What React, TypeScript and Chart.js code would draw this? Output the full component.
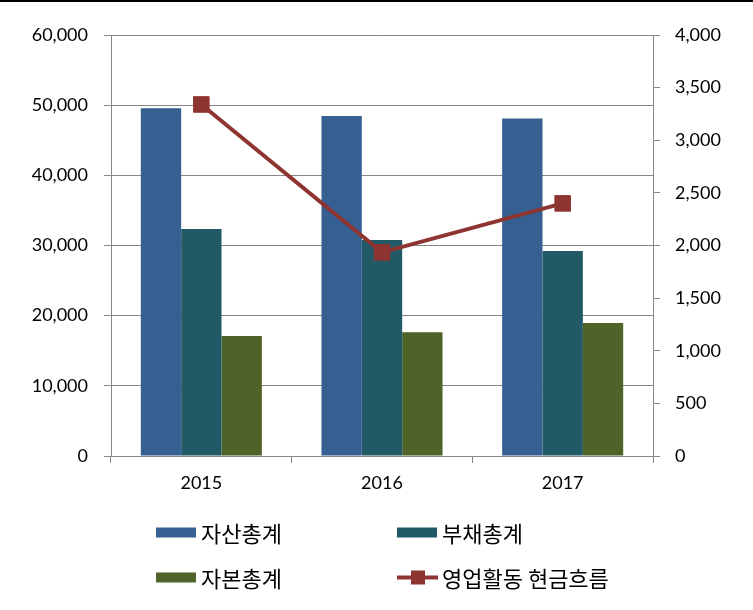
import React, { useEffect, useRef } from "react";
import { Chart, registerables } from "chart.js";

Chart.register(...registerables);

const categories = ["2015", "2016", "2017"];
const assets = [49550, 48450, 48100];
const liabilities = [32350, 30780, 29200];
const equity = [17100, 17650, 18950];
const cashFlow = [3340, 1935, 2400];

const seriesNames = ["자산총계", "부채총계", "자본총계", "영업활동 현금흐름"];
const colors = ["#376092", "#215A66", "#4F6228", "#8E3532"];

const GRID = "#878787";
const TICK_FONT = { family: "Lato, 'Noto Sans', sans-serif", size: 18 };
const LEGEND_FONT = "22px 'Noto Sans CJK KR', 'Noto Sans', sans-serif";

const legendPlugin = {
  id: "customLegend",
  afterDraw(chart: any) {
    const ctx = chart.ctx;
    ctx.save();
    ctx.fillStyle = "#000";
    ctx.fillRect(0, 0, chart.width, 2);

    const cols = [156, 397];
    const rows = [532.5, 577.5];
    const items = [
      { i: 0, c: 0, r: 0 },
      { i: 1, c: 1, r: 0 },
      { i: 2, c: 0, r: 1 },
      { i: 3, c: 1, r: 1 },
    ];
    ctx.font = LEGEND_FONT;
    ctx.textBaseline = "middle";
    ctx.textAlign = "left";
    for (const it of items) {
      const x = cols[it.c];
      const y = rows[it.r];
      ctx.fillStyle = colors[it.i];
      if (it.i < 3) {
        ctx.fillRect(x, y - 5, 40, 10);
      } else {
        ctx.strokeStyle = colors[it.i];
        ctx.lineWidth = 4;
        ctx.beginPath();
        ctx.moveTo(x, y);
        ctx.lineTo(x + 41, y);
        ctx.stroke();
        ctx.fillRect(x + 14, y - 7, 14, 14);
      }
      ctx.fillStyle = "#000";
      ctx.fillText(seriesNames[it.i], x + 45, y + 1);
    }
    ctx.restore();
  },
};

export default function App() {
  const ref = useRef<HTMLCanvasElement | null>(null);

  useEffect(() => {
    if (!ref.current) return;
    const chart = new Chart(ref.current, {
      type: "bar",
      data: {
        labels: categories,
        datasets: [
          {
            type: "line" as const,
            label: seriesNames[3],
            data: cashFlow,
            yAxisID: "y1",
            borderColor: colors[3],
            backgroundColor: colors[3],
            borderWidth: 4,
            pointStyle: "rect",
            pointRadius: 11,
            pointBorderWidth: 1,
            pointBackgroundColor: colors[3],
            pointBorderColor: colors[3],
            tension: 0,
            order: 0,
          },
          {
            label: seriesNames[0],
            data: assets,
            backgroundColor: colors[0],
            yAxisID: "y",
            order: 1,
          },
          {
            label: seriesNames[1],
            data: liabilities,
            backgroundColor: colors[1],
            yAxisID: "y",
            order: 1,
          },
          {
            label: seriesNames[2],
            data: equity,
            backgroundColor: colors[2],
            yAxisID: "y",
            order: 1,
          },
        ] as any,
      },
      options: {
        responsive: false,
        animation: false,
        datasets: {
          bar: { categoryPercentage: 0.67, barPercentage: 1.0 },
        },
        layout: { padding: { top: 35, bottom: 114, left: 0, right: 0 } },
        plugins: {
          legend: { display: false },
          tooltip: { enabled: false },
        },
        scales: {
          x: {
            offset: true,
            grid: {
              offset: true,
              drawOnChartArea: false,
              drawTicks: true,
              tickLength: 7,
              color: GRID,
            },
            border: { color: GRID },
            ticks: {
              font: TICK_FONT,
              color: "#000",
              padding: 9,
              autoSkip: false,
              maxRotation: 0,
            },
            afterFit(scale: any) {
              scale.height = 40;
            },
          },
          y: {
            position: "left",
            min: 0,
            max: 60000,
            ticks: {
              stepSize: 10000,
              font: TICK_FONT,
              color: "#000",
              padding: 16,
            },
            grid: { color: GRID, tickLength: 7 },
            border: { color: GRID },
            afterFit(scale: any) {
              scale.width = 111;
            },
          },
          y1: {
            position: "right",
            min: 0,
            max: 4000,
            ticks: {
              stepSize: 500,
              font: TICK_FONT,
              color: "#000",
              padding: 15,
            },
            grid: { drawOnChartArea: false, color: GRID, tickLength: 7 },
            border: { color: GRID },
            afterFit(scale: any) {
              scale.width = 100;
            },
          },
        },
      } as any,
      plugins: [legendPlugin],
    });
    return () => chart.destroy();
  }, []);

  return (
    <div
      style={{
        position: "fixed",
        left: 0,
        top: 0,
        width: 753,
        height: 610,
        background: "#fff",
      }}
    >
      <canvas ref={ref} width={753} height={610} style={{ display: "block" }} />
    </div>
  );
}
